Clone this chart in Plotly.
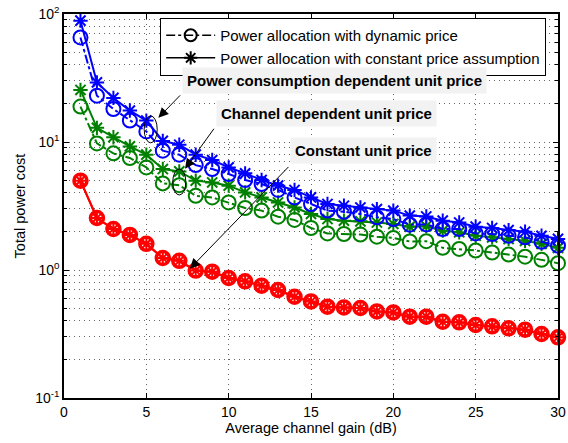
import plotly.graph_objects as go

gain_db = list(range(1, 31))

blue_dynamic = [65.6, 23.0, 18.1, 14.7, 12.1, 8.55, 7.96, 6.6, 6.15, 5.62,
                5.05, 4.70, 4.22, 3.69, 3.28, 2.91, 2.85, 2.74, 2.58, 2.50,
                2.26, 2.27, 2.09, 2.09, 1.93, 1.91, 1.85, 1.80, 1.66, 1.55]
blue_constant = [88.7, 29.2, 22.1, 17.6, 14.7, 10.2, 9.52, 7.96, 7.23, 6.33,
                 5.69, 5.05, 4.56, 4.22, 3.69, 3.28, 3.18, 3.08, 2.99, 2.91,
                 2.66, 2.62, 2.43, 2.35, 2.18, 2.13, 2.05, 1.99, 1.85, 1.75]
green_dynamic = [18.9, 9.75, 8.15, 7.50, 6.33, 4.75, 4.6, 3.80, 3.69, 3.37,
                 3.05, 2.91, 2.61, 2.46, 2.13, 1.93, 1.91, 1.89, 1.82, 1.78,
                 1.67, 1.68, 1.49, 1.46, 1.42, 1.37, 1.32, 1.27, 1.20, 1.13]
green_constant = [25.5, 12.9, 10.9, 9.24, 7.96, 6.15, 5.89, 4.99, 4.83, 4.56,
                  4.04, 3.69, 3.37, 3.08, 2.74, 2.50, 2.43, 2.40, 2.35, 2.29,
                  2.18, 2.20, 2.03, 1.97, 1.85, 1.80, 1.75, 1.69, 1.60, 1.49]
red_values = [4.99, 2.55, 2.09, 1.88, 1.60, 1.24, 1.18, 0.99, 0.97, 0.866,
              0.815, 0.754, 0.698, 0.618, 0.568, 0.517, 0.51, 0.505, 0.475, 0.466,
              0.432, 0.432, 0.394, 0.39, 0.372, 0.363, 0.35, 0.342, 0.316, 0.298]

y_tickvals = [0.1, 1, 10, 100]
y_ticktext = ["10<sup>-1</sup>", "10<sup>0</sup>", "10<sup>1</sup>", "10<sup>2</sup>"]
y_minor = [m * d for d in (0.1, 1, 10) for m in range(2, 10)]
x_tickvals = [0, 5, 10, 15, 20, 25, 30]

legend_names = ["Power allocation with dynamic price",
                "Power allocation with constant price assumption"]

BLUE = "rgb(0,0,255)"
GREEN = "rgb(0,128,0)"
RED = "rgb(255,0,0)"
FONT = "Liberation Sans, Arial, Helvetica, sans-serif"
GRID = "rgba(0,0,0,0.6)"
GRID_DASH = "1px,4px"

fig = go.Figure()

def add_pair(color, dyn, const, red=False):
    if red:
        fig.add_trace(go.Scatter(x=gain_db, y=dyn, mode="lines+markers", cliponaxis=False,
                                 line=dict(color=color, width=2),
                                 marker=dict(symbol="circle-open", size=13, color=color,
                                             line=dict(width=3.5, color=color)),
                                 showlegend=False))
    else:
        fig.add_trace(go.Scatter(x=gain_db, y=dyn, mode="lines+markers", cliponaxis=False,
                                 line=dict(color=color, width=2, dash="dashdot"),
                                 marker=dict(symbol="circle-open", size=14, color=color,
                                             line=dict(width=2, color=color)),
                                 showlegend=False))
    fig.add_trace(go.Scatter(x=gain_db, y=const, mode="lines+markers", cliponaxis=False,
                             line=dict(color=color, width=2),
                             marker=dict(symbol="asterisk-open", size=12, color=color,
                                         line=dict(width=2, color=color)),
                             showlegend=False))

add_pair(RED, red_values, red_values, red=True)
add_pair(GREEN, green_dynamic, green_constant)
add_pair(BLUE, blue_dynamic, blue_constant)

# legend entries (black)
fig.add_trace(go.Scatter(x=[None], y=[None], mode="lines+markers", name=legend_names[0],
                         line=dict(color="black", width=1.5, dash="dashdot"),
                         marker=dict(symbol="circle-open", size=12, color="black",
                                     line=dict(width=2, color="black"))))
fig.add_trace(go.Scatter(x=[None], y=[None], mode="lines+markers", name=legend_names[1],
                         line=dict(color="black", width=1.5),
                         marker=dict(symbol="asterisk-open", size=11, color="black",
                                     line=dict(width=2, color="black"))))

# text labels
labels = [
    ("Power consumption dependent unit price", 0.2389, 0.826),
    ("Channel dependent unit price", 0.3077, 0.741),
    ("Constant unit price", 0.4575, 0.645),
]
for txt, px, py in labels:
    fig.add_annotation(text="<b>%s</b>" % txt, xref="paper", yref="paper",
                       x=px, y=py, xanchor="left", yanchor="middle",
                       showarrow=False, bgcolor="#f2f2f2", borderpad=4,
                       font=dict(family=FONT, size=15, color="black"))

# arrows (log10 units for y on a log axis)
arrows = [
    (5.73, 1.189, 7.14, 1.376),
    (7.35, 0.791, 9.17, 1.115),
    (7.65, 0.011, 13.72, 0.817),
]
for x, y, ax, ay in arrows:
    fig.add_annotation(text="", x=x, y=y, ax=ax, ay=ay, xref="x", yref="y",
                       axref="x", ayref="y", showarrow=True, arrowhead=2,
                       arrowsize=2, arrowwidth=1, arrowcolor="black")

# ellipses
fig.add_shape(type="circle", xref="paper", yref="paper",
              x0=0.1623, x1=0.1887, y0=0.6645, y1=0.7347,
              line=dict(color="black", width=1))
fig.add_shape(type="circle", xref="paper", yref="paper",
              x0=0.2202, x1=0.2466, y0=0.5287, y1=0.5964,
              line=dict(color="black", width=1))

axis_common = dict(showline=True, linecolor="black", linewidth=1.5, mirror="ticks",
                   ticks="inside", ticklen=5, tickcolor="black", automargin=False,
                   showgrid=True, gridcolor=GRID, griddash=GRID_DASH, gridwidth=1,
                   zeroline=False,
                   tickfont=dict(family=FONT, size=14, color="black"),
                   title_font=dict(family=FONT, size=14.5, color="black"))

fig.update_xaxes(range=[0, 30], tickvals=x_tickvals,
                 title=dict(text="Average channel gain (dB)", standoff=3), **axis_common)
fig.update_yaxes(type="log", range=[-1, 2], tickvals=y_tickvals, ticktext=y_ticktext,
                 title=dict(text="Total power cost", standoff=6),
                 minor=dict(tickvals=y_minor, ticks="inside", ticklen=3, tickcolor="black",
                            showgrid=True, gridcolor=GRID, griddash=GRID_DASH,
                            gridwidth=1),
                 **axis_common)

fig.update_layout(
    width=568, height=443,
    margin=dict(l=64, r=10, t=14, b=45),
    paper_bgcolor="white", plot_bgcolor="white",
    font=dict(family=FONT, size=14, color="black"),
    legend=dict(x=0.1943, y=0.99, xanchor="left", yanchor="top",
                bgcolor="white", bordercolor="black", borderwidth=1.2,
                font=dict(family=FONT, size=15, color="black"),
                tracegroupgap=0, itemwidth=49),
    showlegend=True,
)

fig.write_html("out.html", config={"displayModeBar": False},
               post_script="document.body.style.margin='0';document.body.style.overflow='hidden';")
